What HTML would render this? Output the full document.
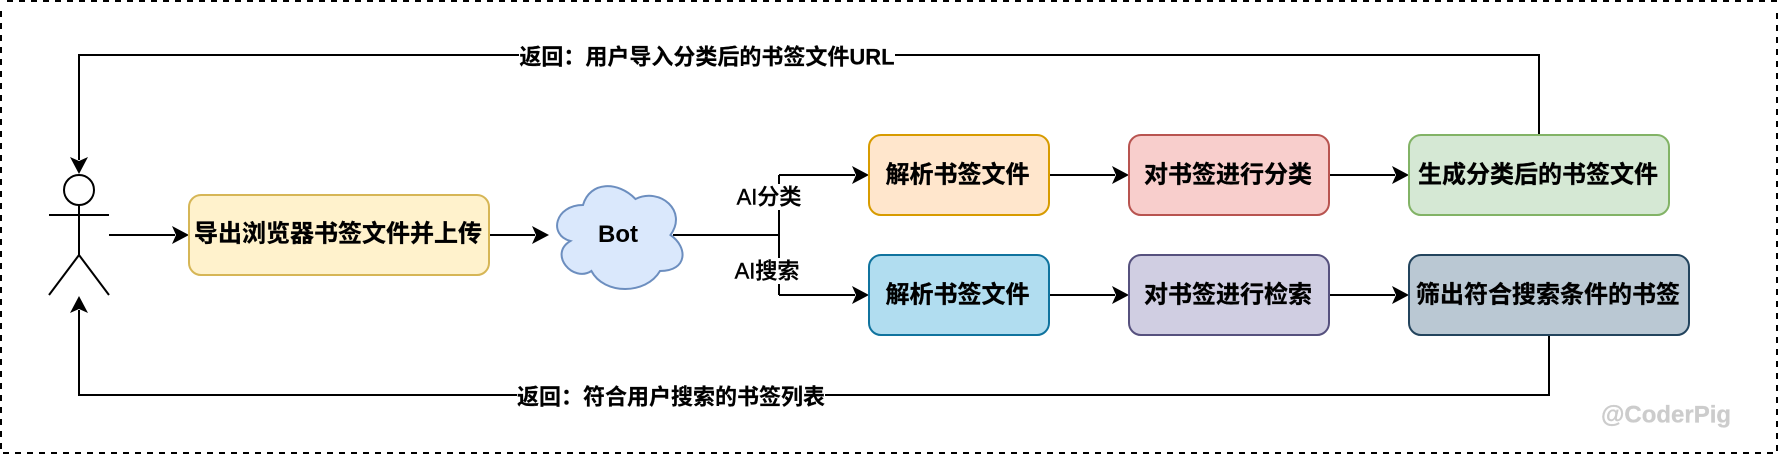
<!DOCTYPE html>
<html><head><meta charset="utf-8"><style>
html,body{margin:0;padding:0;background:#fff;width:1778px;height:454px;overflow:hidden}
svg{display:block}
text{font-family:"Liberation Sans","Noto Sans CJK SC",sans-serif;text-anchor:middle;dominant-baseline:central;fill:#000}
.b{font-size:24px;font-weight:700;stroke:#000;stroke-width:.3px}
.l{font-size:22px;font-weight:700;stroke:#000;stroke-width:.2px}
.m{font-size:22px;font-weight:500;stroke:#000;stroke-width:.4px}
</style></head><body>
<svg width="1778" height="454" viewBox="0 0 1778 454" xmlns="http://www.w3.org/2000/svg">
<rect width="1778" height="454" fill="#fff"/>
<g stroke="#000" stroke-width="2" stroke-dasharray="6 6" fill="none">
<line x1="7" y1="1" x2="1778" y2="1"/>
<line x1="3" y1="453" x2="1778" y2="453"/>
<line x1="1" y1="11" x2="1" y2="452"/>
<line x1="1777" y1="13" x2="1777" y2="452"/>
</g>
<g fill="none" stroke="#000" stroke-width="2">
<circle cx="79" cy="190" r="15"/>
<path d="M79 205V255M49 215H109M49 295L79 255L109 295"/>
<path d="M1539 135V55H79V160"/>
<path d="M1549 335V395H79V310"/>
<path d="M109 235H175M490 235H535M673 235H779M779 175V295M779 175H855M779 295H855"/>
<path d="M1049 175H1115M1329 175H1395M1049 295H1115M1329 295H1395"/>
</g>
<g fill="#000">
<path d="M79 174L70 157L79 161L88 157Z"/>
<path d="M79 296L70 313L79 309L88 313Z"/>
<path d="M189 235L172 226L176 235L172 244Z"/>
<path d="M549 235L532 226L536 235L532 244Z"/>
<path d="M869 175L852 166L856 175L852 184Z"/>
<path d="M869 295L852 286L856 295L852 304Z"/>
<path d="M1129 175L1112 166L1116 175L1112 184Z"/>
<path d="M1409 175L1392 166L1396 175L1392 184Z"/>
<path d="M1129 295L1112 286L1116 295L1112 304Z"/>
<path d="M1409 295L1392 286L1396 295L1392 304Z"/>
</g>
<g stroke-width="2">
<rect x="189" y="195" width="300" height="80" rx="12" fill="#fff2cc" stroke="#d6b656"/>
<rect x="869" y="135" width="180" height="80" rx="12" fill="#ffe6cc" stroke="#d79b00"/>
<rect x="869" y="255" width="180" height="80" rx="12" fill="#b1ddf0" stroke="#10739e"/>
<rect x="1129" y="135" width="200" height="80" rx="12" fill="#f8cecc" stroke="#b85450"/>
<rect x="1129" y="255" width="200" height="80" rx="12" fill="#d0cee2" stroke="#56517e"/>
<rect x="1409" y="135" width="260" height="80" rx="12" fill="#d5e8d4" stroke="#82b366"/>
<rect x="1409" y="255" width="280" height="80" rx="12" fill="#bac8d3" stroke="#23445d"/>
<path d="M583 205C555 205 548 235 570.400 241C548 254.200 573.200 283 591.400 271C604 295 646 295 660 271C688 271 688 247 670.500 235C688 211 660 187 635.500 199C618 181 590 181 583 205Z" fill="#dae8fc" stroke="#6c8ebf"/>
</g>
<rect x="519" y="42" width="376" height="28" fill="#fff"/>
<rect x="517" y="382" width="308" height="28" fill="#fff"/>
<rect x="736" y="184" width="66" height="26" fill="#fff"/>
<rect x="734" y="258" width="66" height="26" fill="#fff"/>
<text class="b" x="338" y="234">导出浏览器书签文件并上传</text>
<text x="618" y="234.400" style="font-size:24px;font-weight:700">Bot</text>
<text class="b" x="957.500" y="175">解析书签文件</text>
<text class="b" x="957.500" y="295">解析书签文件</text>
<text class="b" x="1228" y="175">对书签进行分类</text>
<text class="b" x="1228" y="295">对书签进行检索</text>
<text class="b" x="1538" y="175">生成分类后的书签文件</text>
<text class="b" x="1548" y="295">筛出符合搜索条件的书签</text>
<text class="m" x="769" y="197">AI分类</text>
<text class="m" x="767" y="271">AI搜索</text>
<text class="l" x="707" y="57">返回：用户导入分类后的书签文件URL</text>
<text class="l" x="671" y="397">返回：符合用户搜索的书签列表</text>
<text x="1666" y="415" style="font-size:24px;font-weight:700;fill:#ccc;stroke:#ccc;stroke-width:.3px">@CoderPig</text>
</svg>
</body></html>
